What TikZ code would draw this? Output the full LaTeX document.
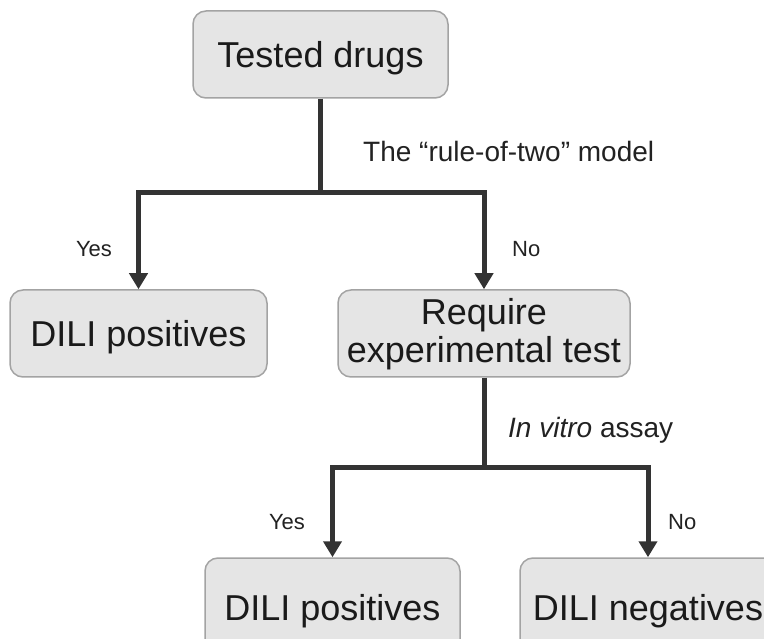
\documentclass[tikz,border=0pt]{standalone}
\usepackage{fontspec}
\setmainfont{Liberation Sans}
\usetikzlibrary{arrows.meta}
\definecolor{boxfill}{HTML}{E5E5E5}
\definecolor{boxborder}{HTML}{A3A3A3}
\definecolor{linecol}{HTML}{333333}
\definecolor{textcol}{HTML}{1A1A1A}
\definecolor{labcol}{HTML}{222222}
\begin{document}
\begin{tikzpicture}[x=1pt,y=-1pt,
  box/.style={draw=boxborder, fill=boxfill, line width=1.5pt, rounded corners=13pt,
    inner sep=0pt, text=textcol, font=\fontsize{36}{38}\selectfont,
    text height=26pt, text depth=0pt, minimum height=87pt},
  conn/.style={draw=linecol, line width=5pt},
  arr/.style={conn, -{Triangle[width=18pt,length=16pt]}},
  lab/.style={text=labcol, font=\fontsize{28}{30}\selectfont, inner sep=0pt},
  yn/.style={text=labcol, font=\fontsize{22}{24}\selectfont, inner sep=0pt}]
\useasboundingbox (0,0) rectangle (764,639);
\clip (0,0) rectangle (764,639);
\fill[white] (0,0) rectangle (764,639);

% boxes
\node[box, minimum width=255pt] (tested) at (320.5,54.5) {Tested drugs};
\node[box, minimum width=257pt] (dpos1) at (138.5,333.5) {DILI positives};
\node[box, minimum width=292pt, text height=, text depth=, align=center] (req) at (484,333.5) {};
\node[text=textcol, font=\fontsize{36}{38}\selectfont, align=center, inner sep=0pt] (reqtext) at (484,334) {Require\\experimental test};
\node[box, minimum width=255pt, minimum height=98pt] (dpos2) at (332.5,607) {DILI positives};
\node[box, minimum width=256pt, minimum height=98pt] (dneg) at (648,607) {DILI negatives};

% connectors
\coordinate (b1) at (320.5,193);
\coordinate (b2) at (484,467);
\draw[conn] (tested.south) -- (b1);
\draw[arr] (b1) -| (dpos1.north);
\draw[arr] (b1) -| (req.north);
\draw[conn] (req.south) -- (b2);
\draw[arr] (b2) -| (dpos2.north);
\draw[arr] (b2) -| (dneg.north);

% labels
\node[lab, anchor=base west] (l1) at (363,162) {The “rule-of-two” model};
\node[yn, anchor=base] (y1) at (94,257) {Yes};
\node[yn, anchor=base west] (n1) at (512,257) {No};
\node[lab, anchor=base west] (l2) at (508,438) {\textit{In vitro} assay};
\node[yn, anchor=base] (y2) at (287,529) {Yes};
\node[yn, anchor=base west] (n2) at (668,529) {No};
\end{tikzpicture}
\end{document}
